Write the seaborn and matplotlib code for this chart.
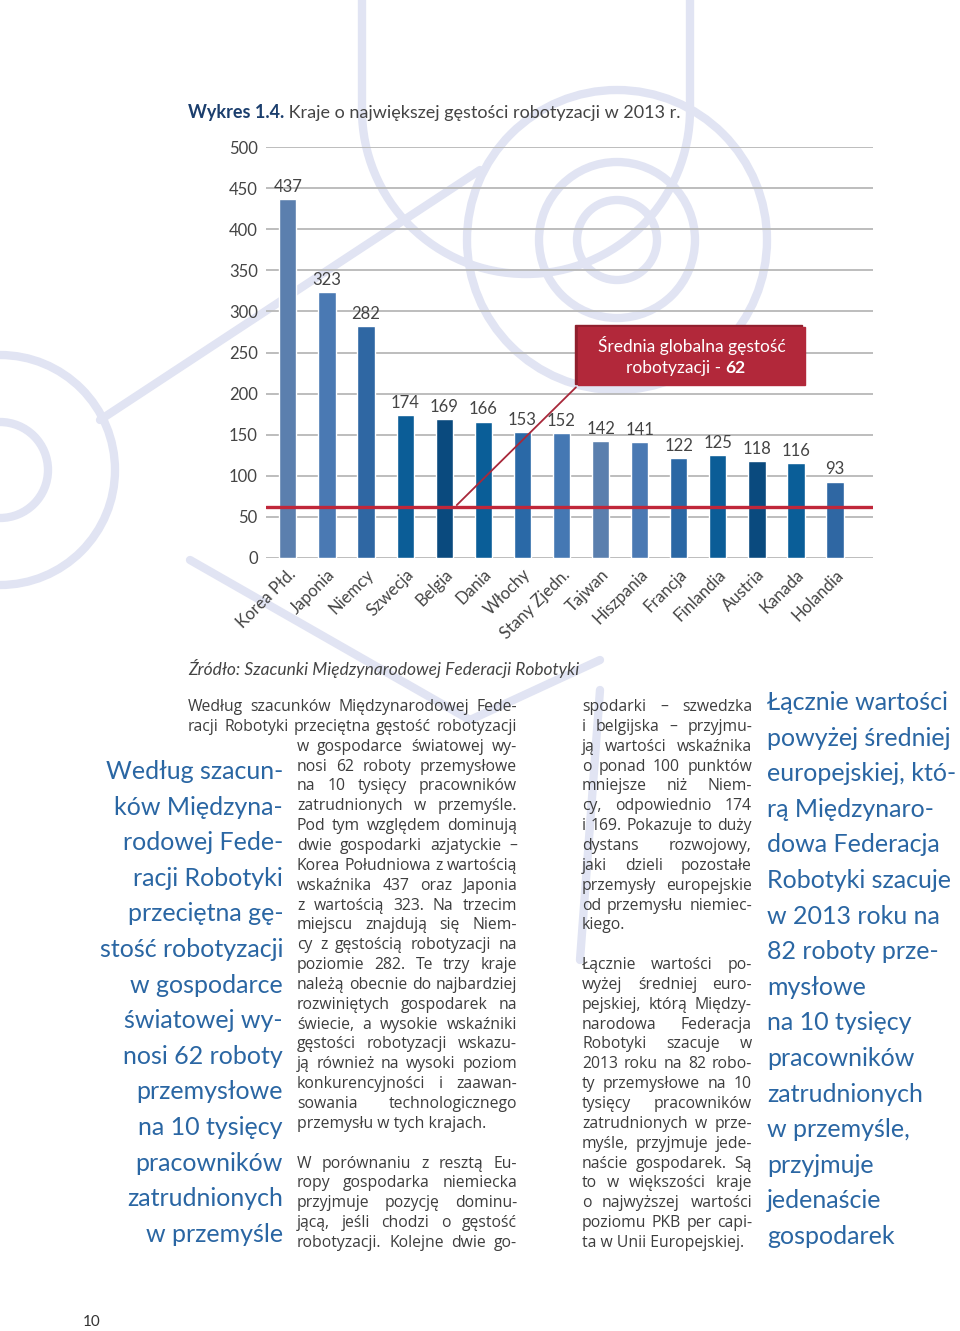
"""
Wykres 1.4 - gestosc robotyzacji (strona raportu)
"""
import matplotlib
matplotlib.use('Agg')
import matplotlib.pyplot as plt
import seaborn as sns
import numpy as np
from matplotlib.patches import Rectangle, Circle, Arc

# --- dane wykresu ---
countries = ['Korea Płd.', 'Japonia', 'Niemcy', 'Szwecja', 'Belgia', 'Dania', 'Włochy',
             'Stany Zjedn.', 'Tajwan', 'Hiszpania', 'Francja', 'Finlandia', 'Austria',
             'Kanada', 'Holandia']
density = [437, 323, 282, 174, 169, 166, 153, 152, 142, 141, 122, 125, 118, 116, 93]
bar_colors = ['#5b7fae', '#4a79b3', '#2f67a3', '#0b5d97', '#0a4a7e', '#0a5e98', '#2a69a7',
              '#4578b3', '#5a7fae', '#4a79b3', '#2a67a4', '#0b5d97', '#0a4a7e', '#0a5e98',
              '#2f67a3']
global_mean = 62
y_ticks = list(range(0, 501, 50))

title_bold = 'Wykres 1.4.'
title_rest = ' Kraje o największej gęstości robotyzacji w 2013 r.'
source_text = 'Źródło: Szacunki Międzynarodowej Federacji Robotyki'
box_line1 = 'Średnia globalna gęstość'
box_line2 = 'robotyzacji - '

col1_lines = [
    'Według szacunków Międzynarodowej Fede-',
    'racji Robotyki przeciętna gęstość robotyzacji',
    'w gospodarce światowej wy-',
    'nosi 62 roboty przemysłowe',
    'na 10 tysięcy pracowników',
    'zatrudnionych w przemyśle.',
    'Pod tym względem dominują',
    'dwie gospodarki azjatyckie –',
    'Korea Południowa z wartością',
    'wskaźnika 437 oraz Japonia',
    'z wartością 323. Na trzecim',
    'miejscu znajdują się Niem-',
    'cy z gęstością robotyzacji na',
    'poziomie 282. Te trzy kraje',
    'należą obecnie do najbardziej',
    'rozwiniętych gospodarek na',
    'świecie, a wysokie wskaźniki',
    'gęstości robotyzacji wskazu-',
    'ją również na wysoki poziom',
    'konkurencyjności i zaawan-',
    'sowania technologicznego',
    'przemysłu w tych krajach.',
    '',
    'W porównaniu z resztą Eu-',
    'ropy gospodarka niemiecka',
    'przyjmuje pozycję dominu-',
    'jącą, jeśli chodzi o gęstość',
    'robotyzacji. Kolejne dwie go-',
]
col2_lines = [
    'spodarki – szwedzka',
    'i belgijska – przyjmu-',
    'ją wartości wskaźnika',
    'o ponad 100 punktów',
    'mniejsze niż Niem-',
    'cy, odpowiednio 174',
    'i 169. Pokazuje to duży',
    'dystans rozwojowy,',
    'jaki dzieli pozostałe',
    'przemysły europejskie',
    'od przemysłu niemiec-',
    'kiego.',
    '',
    'Łącznie wartości po-',
    'wyżej średniej euro-',
    'pejskiej, którą Między-',
    'narodowa Federacja',
    'Robotyki szacuje w',
    '2013 roku na 82 robo-',
    'ty przemysłowe na 10',
    'tysięcy pracowników',
    'zatrudnionych w prze-',
    'myśle, przyjmuje jede-',
    'naście gospodarek. Są',
    'to w większości kraje',
    'o najwyższej wartości',
    'poziomu PKB per capi-',
    'ta w Unii Europejskiej.',
]
ragged = {'przemysłu w tych krajach.', 'kiego.', 'ta w Unii Europejskiej.'}

quote_left = ['Według szacun-', 'ków Międzyna-', 'rodowej Fede-', 'racji Robotyki',
              'przeciętna gę-', 'stość robotyzacji', 'w gospodarce', 'światowej wy-',
              'nosi 62 roboty', 'przemysłowe', 'na 10 tysięcy', 'pracowników',
              'zatrudnionych', 'w przemyśle']
quote_right = ['Łącznie wartości', 'powyżej średniej', 'europejskiej, któ-', 'rą Międzynaro-',
               'dowa Federacja', 'Robotyki szacuje', 'w 2013 roku na', '82 roboty prze-',
               'mysłowe', 'na 10 tysięcy', 'pracowników', 'zatrudnionych', 'w przemyśle,',
               'przyjmuje', 'jedenaście', 'gospodarek']
page_number = '10'

# --- styl ---
sns.set_style("white")
FONT = ['Lato', 'DejaVu Sans']
BODY_FONT = ['Open Sans', 'DejaVu Sans']
plt.rcParams['font.family'] = FONT
TEXT = '#3d3d3d'
NAVY = '#1b3e6d'
QUOTE = '#2a66a3'
RED = '#c0273a'
BOX = '#b2283a'
DECO = '#e1e4f3'

fig = plt.figure(figsize=(9.6, 13.31), dpi=100)
renderer = fig.canvas.get_renderer()

# tlo strony w pikselach
bg = fig.add_axes([0, 0, 1, 1], zorder=0)
bg.set_xlim(0, 960)
bg.set_ylim(1331, 0)
bg.axis('off')

# dekoracje (ramie robota)
lw_deco = 6
bg.plot([362, 362], [0, 110], color=DECO, lw=lw_deco, solid_capstyle='butt')
bg.plot([690, 690], [0, 110], color=DECO, lw=lw_deco, solid_capstyle='butt')
bg.add_patch(Arc((526, 110), 328, 328, theta1=0, theta2=180, color=DECO, lw=lw_deco))
for r in (150, 78, 40):
    bg.add_patch(Circle((617, 240), r, fill=False, ec=DECO, lw=lw_deco))
for r in (115, 48):
    bg.add_patch(Circle((0, 470), r, fill=False, ec=DECO, lw=lw_deco))
bg.plot([100, 480], [420, 170], color=DECO, lw=lw_deco)
bg.plot([190, 470], [560, 720], color=DECO, lw=lw_deco)
bg.plot([470, 600], [720, 660], color=DECO, lw=lw_deco)
bg.plot([600, 580], [690, 960], color=DECO, lw=lw_deco)


def put(x, y, s, **kw):
    kw.setdefault('fontsize', 11.3)
    kw.setdefault('color', TEXT)
    kw.setdefault('va', 'baseline')
    return bg.text(x, y, s, **kw)


# tytul
t = put(188, 118, title_bold, fontsize=13, color=NAVY, fontweight='bold')
w = t.get_window_extent(renderer).width
put(188 + w, 118, title_rest, fontsize=13, color='#444444')

# zrodlo
put(188, 675, source_text, fontsize=12.5, style='italic', color='#444444')


def draw_column(lines, x_left, x_right, y0, step, first_left=None, n_first=0):
    y = y0
    for i, line in enumerate(lines):
        if line == '':
            y += step
            continue
        x0 = first_left if (first_left is not None and i < n_first) else x_left
        words = line.split(' ')
        if line in ragged or len(words) == 1:
            put(x0, y, line, family=BODY_FONT)
        else:
            objs = [put(0, y, wd, family=BODY_FONT) for wd in words]
            widths = [o.get_window_extent(renderer).width for o in objs]
            gap = max((x_right - x0 - sum(widths)) / (len(words) - 1), 3)
            x = x0
            for o, wd in zip(objs, widths):
                o.set_x(x)
                x += wd + gap
        y += step


draw_column(col1_lines, 297, 517, 711, 19.85, first_left=188, n_first=2)
draw_column(col2_lines, 582, 752, 711, 19.85)

for i, line in enumerate(quote_left):
    put(283, 779 + i * 35.6, line, fontsize=18, color=QUOTE, ha='right')
for i, line in enumerate(quote_right):
    put(767, 710 + i * 35.6, line, fontsize=18, color=QUOTE, ha='left')

put(83, 1326, page_number, fontsize=11, color='#333333')

# --- wykres ---
ax = fig.add_axes([266 / 960, (1331 - 558) / 1331, (873 - 266) / 960, (558 - 147) / 1331],
                  zorder=2)
ax.set_facecolor('none')
sns.barplot(x=countries, y=density, hue=countries, palette=bar_colors, legend=False,
            width=0.44, saturation=1, ax=ax, zorder=3)
ax.set_xlim(-0.56, 14.97)
ax.set_ylim(0, 500)
ax.set_yticks(y_ticks)
ax.yaxis.grid(True, color='#b8b8b8', lw=1.3)
ax.set_axisbelow(True)
for s in ax.spines.values():
    s.set_visible(False)
ax.tick_params(axis='both', length=0, labelsize=12, labelcolor='#444444')
ax.tick_params(axis='y', pad=6)
ax.tick_params(axis='x', pad=6)
plt.setp(ax.get_xticklabels(), rotation=45, ha='right', rotation_mode='anchor')
ax.set_xlabel('')
ax.set_ylabel('')

for i, v in enumerate(density):
    ax.text(i, v + 5, str(v), ha='center', va='bottom', fontsize=12, color='#444444',
            zorder=5)

ax.axhline(global_mean, color=RED, lw=2.4, zorder=4)

# ramka ze srednia
bx0, by0, bw, bh = 7.42, 210, 5.81, 71
ax.annotate('', xy=(4.27, global_mean), xytext=(bx0, by0),
            arrowprops=dict(arrowstyle='-', color='#a8283a', lw=1.3), zorder=4)
ax.add_patch(Rectangle((bx0 - 0.07, by0 + 2), bw, bh, color='#8f1f2d', zorder=5))
ax.add_patch(Rectangle((bx0, by0), bw, bh, color=BOX, zorder=6))
ax.text(bx0 + bw / 2, 258, box_line1, ha='center', va='center', color='white',
        fontsize=12.5, zorder=7)
ax.text(11.2, 231, box_line2, ha='right', va='center', color='white', fontsize=12.5,
        zorder=7)
ax.text(11.2, 231, str(global_mean), ha='left', va='center', color='white', fontsize=12.5,
        fontweight='bold', zorder=7)

fig.savefig('out.png', dpi=100)
